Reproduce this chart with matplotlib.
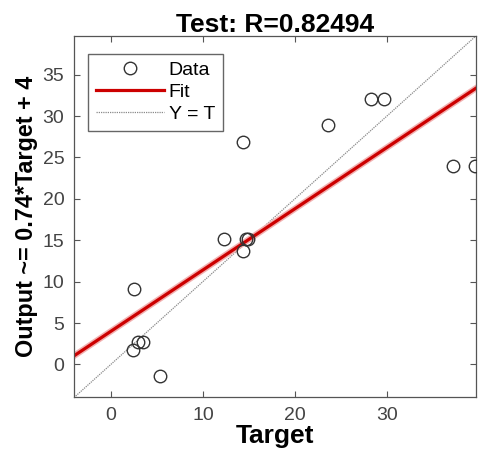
import numpy as np
import matplotlib
matplotlib.use("Agg")
import matplotlib.pyplot as plt

plt.rcParams["font.family"] = ["Liberation Sans", "DejaVu Sans"]

# test set: targets vs network outputs
target = [2.5, 2.45, 2.95, 3.5, 5.3, 12.25, 14.4, 14.4, 14.7, 14.9, 23.6, 28.3, 29.7, 37.2, 39.6]
output = [9.1, 1.7, 2.7, 2.7, -1.4, 15.1, 26.9, 13.7, 15.1, 15.2, 28.9, 32.1, 32.1, 24.0, 24.0]

fit_slope = 0.74
fit_intercept = 4.0
r_value = "0.82494"
lims = [-4.0, 39.7]

fig = plt.figure(figsize=(4.78, 4.59), dpi=100)
ax = fig.add_axes([0.155, 0.134, 0.841, 0.788])

xs = np.array(lims)
ax.plot(target, output, "o", mfc="none", mec="#333333", ms=9, mew=1.0, label="Data", zorder=3)
ax.plot(xs, fit_slope * xs + fit_intercept, color="#f2b0b0", lw=4.5, zorder=2)
ax.plot(xs, fit_slope * xs + fit_intercept, color="#cc0000", lw=2.3, label="Fit", zorder=2)
ax.plot(xs, xs, linestyle=(0, (1, 0.8)), color="#8a8a8a", lw=0.9, label="Y = T", zorder=1)

ax.set_xlim(lims)
ax.set_ylim(lims)
ax.set_xticks([0, 10, 20, 30])
ax.set_yticks([0, 5, 10, 15, 20, 25, 30, 35])
ax.tick_params(direction="in", top=True, right=True, length=4, color="#555555",
               labelsize=14, labelcolor="#444444", pad=7)
for s in ax.spines.values():
    s.set_color("#555555")
    s.set_linewidth(0.9)

ax.set_title("Test: R=" + r_value, fontsize=19, fontweight="bold", pad=3)
ax.set_xlabel("Target", fontsize=19, fontweight="bold", labelpad=0)
ax.set_ylabel("Output ~= %.2g*Target + %g" % (fit_slope, fit_intercept),
              fontsize=16.8, fontweight="bold", labelpad=3)

handles, labels = ax.get_legend_handles_labels()
leg = ax.legend(handles, labels, loc="upper left", fontsize=14, frameon=True,
                fancybox=False, edgecolor="#666666", framealpha=1,
                borderpad=0.4, labelspacing=0.22, handlelength=3.5, handletextpad=0.25,
                borderaxespad=0, bbox_to_anchor=(0.035, 0.95))
leg.get_frame().set_linewidth(1.0)

fig.savefig("out.png", dpi=100)
